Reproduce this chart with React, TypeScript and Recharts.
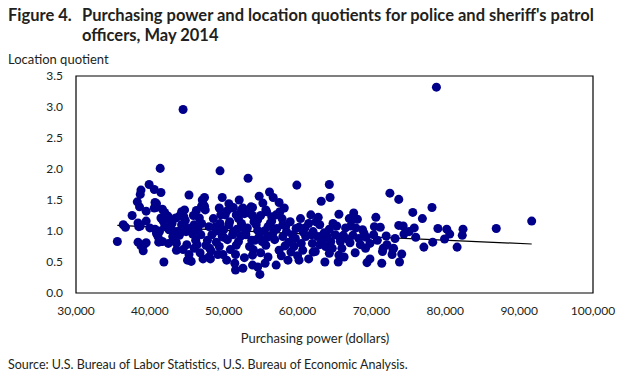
import React from 'react';
import { ScatterChart, Scatter, XAxis, YAxis, ZAxis, ReferenceArea, ReferenceLine } from 'recharts';

// purchasing power in thousands of dollars, paired with location quotients
const purchasingPower = [
  44.5, 78.8, 41.4, 49.5, 53.3, 59.9, 64.3, 72.5, 73.7, 78.2, 75.6, 76.9, 91.7, 86.9,
  39.9, 40.6, 38.8, 41.5, 38.7, 38.3, 38.6, 40.7, 40.6, 41.7, 45.3, 37.6, 39.5, 41.5, 41.8, 42.5,
  43.5, 44.3, 44.7, 44.6, 42.9, 36.4, 36.7, 38.7, 40.7, 41.3, 42.6, 43.1, 43.8, 44.3, 44.9, 46.0,
  41.1, 43.1, 43.5, 41.2, 41.7, 35.6, 38.4, 39.5, 39.1, 43.6, 41.9, 45.3, 45.1, 45.6,
  38.4, 38.5, 40.9, 40.8, 41.9, 42.3, 40.9, 38.8, 39.2, 43.6, 43.2, 44.0, 44.6, 46.2, 46.4, 46.0,
  47.1, 47.4, 48.0, 48.1, 45.5, 45.8, 44.0, 42.0,
  47.4, 49.8, 52.1, 54.8, 56.2, 56.7, 57.5, 55.3, 47.2, 47.5, 49.4, 50.7, 51.0, 52.6, 53.7, 55.7,
  57.1, 58.2, 49.6, 50.2, 51.7, 53.9, 54.6, 46.7, 60.4, 61.8, 56.5, 58.4, 59.8, 48.0, 48.9, 50.7,
  52.5, 54.4, 56.0, 46.9, 48.4, 49.8, 51.2, 53.0, 54.8, 56.6, 58.0, 59.3, 61.1, 61.9, 47.6, 49.4,
  51.7, 53.5, 55.7, 57.5, 59.1, 60.7, 62.1, 47.2, 48.2, 50.4, 51.6, 53.9, 55.6, 57.1, 58.7, 60.2,
  61.5, 51.6, 52.6, 54.6, 54.9, 53.9,
  53.9, 51.3, 47.0, 52.4, 53.5, 55.8, 57.6, 56.5, 67.4, 49.5, 50.8, 52.4, 54.1, 58.0, 60.2, 51.3,
  53.0, 54.6, 57.2, 58.5, 62.1, 63.4, 65.7, 67.5, 69.3,
  47.8, 49.0, 50.5, 52.0, 53.8, 55.2, 56.9, 58.8, 60.5, 61.0, 46.5, 50.0, 51.8, 55.5, 59.0, 57.8,
  49.2, 52.8, 55.0, 60.0, 62.0, 46.8, 48.6, 52.0, 55.0,
  63.2, 64.4, 65.6, 67.6, 67.0, 68.1, 70.6, 67.2, 67.9, 70.4, 71.2, 73.7, 74.3, 75.1, 74.4, 79.0,
  64.3, 63.6, 62.7, 65.1, 66.2, 69.0, 70.3, 68.3, 63.4, 64.5, 65.8, 67.1, 69.2, 72.1, 73.0, 71.5,
  72.8, 74.1, 77.1, 78.3, 62.4, 64.3, 65.6, 63.7, 65.5, 69.4, 69.8, 71.4, 73.8,
  80.2, 82.4, 80.6, 82.3, 79.9, 81.6, 71.6, 72.9,
  63.0, 64.8, 66.5, 62.5, 66.0, 67.8, 68.5, 63.8, 70.8, 72.0, 73.2, 76.0, 75.8,
  42.0, 43.0, 44.8, 45.9, 46.3, 45.0, 44.5, 42.5, 40.0, 39.5,
  47.0, 49.0, 50.0, 50.9, 52.3, 53.2, 54.0, 55.9, 56.3, 57.9, 59.5, 60.8, 61.5, 48.3, 49.9, 51.5,
  56.0, 58.3, 54.2, 52.8, 50.4, 56.8, 59.7,
  63.0, 64.0, 65.3, 66.8, 68.8, 69.8, 66.3, 62.8, 64.7,
];

const locationQuotient = [
  2.96, 3.32, 2.01, 1.97, 1.85, 1.74, 1.75, 1.61, 1.51, 1.38, 1.30, 1.20, 1.16, 1.04,
  1.75, 1.67, 1.66, 1.62, 1.59, 1.47, 1.39, 1.46, 1.37, 1.35, 1.58, 1.25, 1.16, 1.21, 1.16, 1.23,
  1.21, 1.31, 1.34, 1.23, 1.15, 1.10, 1.06, 1.08, 1.03, 0.99, 1.02, 1.00, 0.99, 1.10, 0.99, 1.10,
  0.91, 0.91, 0.83, 0.82, 0.83, 0.83, 0.82, 0.81, 0.68, 0.69, 0.50, 0.62, 0.53, 0.51,
  1.13, 1.07, 1.44, 1.38, 1.20, 1.25, 0.96, 0.76, 0.78, 0.80, 0.88, 1.24, 1.08, 0.85, 0.78, 0.72,
  1.50, 1.40, 0.58, 0.72, 1.05, 0.95, 0.93, 1.07,
  1.54, 1.54, 1.50, 1.56, 1.63, 1.54, 1.46, 1.45, 1.44, 1.34, 1.37, 1.44, 1.37, 1.37, 1.39, 1.34,
  1.26, 1.37, 1.26, 1.26, 1.26, 1.25, 1.18, 1.21, 1.20, 1.26, 1.16, 1.08, 1.04, 1.07, 1.07, 1.10,
  1.07, 1.10, 1.07, 0.94, 0.94, 0.91, 0.94, 0.94, 0.91, 0.94, 0.91, 0.94, 0.91, 0.94, 0.77, 0.75,
  0.77, 0.75, 0.77, 0.69, 0.66, 0.69, 0.66, 0.55, 0.55, 0.53, 0.62, 0.61, 0.48, 0.45, 0.53, 0.53,
  0.55, 0.37, 0.40, 0.42, 0.30, 0.45,
  1.38, 1.38, 1.40, 1.34, 1.29, 1.31, 1.31, 1.23, 1.18, 1.12, 1.15, 1.12, 1.15, 1.10, 1.06, 0.99,
  0.99, 1.01, 1.04, 0.99, 0.99, 0.93, 0.90, 0.93, 0.90,
  0.85, 0.82, 0.86, 0.83, 0.85, 0.83, 0.86, 0.82, 0.80, 1.05, 1.02, 1.02, 1.03, 1.00, 1.15, 0.60,
  0.62, 0.57, 0.65, 0.60, 0.80, 0.65, 1.20, 1.20, 1.25,
  1.48, 1.54, 1.27, 1.29, 1.20, 1.19, 1.22, 1.08, 1.05, 1.07, 1.06, 1.09, 1.08, 0.99, 0.95, 1.04,
  1.03, 0.97, 0.91, 0.94, 0.93, 0.96, 0.94, 0.88, 0.85, 0.83, 0.83, 0.81, 0.72, 0.78, 0.72, 0.67,
  0.62, 0.63, 0.74, 0.82, 0.67, 0.64, 0.61, 0.50, 0.50, 0.49, 0.55, 0.48, 0.50,
  1.03, 1.03, 0.95, 0.93, 0.87, 0.74, 0.72, 0.71,
  1.10, 1.12, 1.05, 1.15, 0.72, 0.65, 0.78, 0.75, 0.85, 0.92, 0.88, 0.90, 1.05,
  1.30, 1.12, 1.17, 1.25, 1.33, 0.78, 0.70, 0.80, 1.05, 1.32,
  1.12, 1.00, 0.90, 0.70, 0.92, 1.05, 0.70, 0.90, 1.12, 1.20, 0.75, 0.98, 1.12, 0.68, 0.62, 0.48,
  0.58, 0.76, 0.85, 1.28, 1.32, 1.00, 0.88,
  0.78, 0.92, 1.08, 0.87, 1.02, 0.80, 0.58, 1.22, 0.72,
];

const trendPower = [35.6, 91.7];
const trendQuotient = [1.09, 0.79];

const xTicks = [30000, 40000, 50000, 60000, 70000, 80000, 90000, 100000];
const yTicks = [0, 0.5, 1, 1.5, 2, 2.5, 3, 3.5];

const points = purchasingPower.map((p, i) => ({ x: p * 1000, y: locationQuotient[i] }));
const trend = trendPower.map((p, i) => ({ x: p * 1000, y: trendQuotient[i] }));

const font = 'Lato, "Open Sans", sans-serif';
const ink = '#231f20';

export default function App() {
  return (
    <div style={{ position: 'absolute', left: 0, top: 0, width: 623, height: 373, background: '#fff', fontFamily: font, color: ink }}>
      <div style={{ position: 'absolute', left: 8, top: 5, fontSize: 16.5, fontWeight: 700, lineHeight: '20px' }}>
        Figure 4.
      </div>
      <div style={{ position: 'absolute', left: 82, top: 5, width: 530, fontSize: 16.5, fontWeight: 700, lineHeight: '20px' }}>
        Purchasing power and location quotients for police and sheriff's patrol<br />officers, May 2014
      </div>
      <div style={{ position: 'absolute', left: 8, top: 51, fontSize: 13 }}>Location quotient</div>
      <div style={{ position: 'absolute', left: 0, width: 630, top: 330, fontSize: 13, textAlign: 'center' }}>
        Purchasing power (dollars)
      </div>
      <div style={{ position: 'absolute', left: 8, top: 357, fontSize: 12.5 }}>
        Source: U.S. Bureau of Labor Statistics, U.S. Bureau of Economic Analysis.
      </div>
      <div style={{ position: 'absolute', left: 0, top: 0 }}>
        <ScatterChart width={623} height={373} margin={{ top: 76, right: 30, bottom: 50, left: 0 }}>
          <XAxis
            type="number"
            dataKey="x"
            domain={[30000, 100000]}
            ticks={xTicks}
            tickFormatter={(v) => v.toLocaleString('en-US')}
            axisLine={false}
            tickLine={false}
            tickSize={0}
            tickMargin={13}
            height={30}
            tick={{ fontSize: 12, fill: ink, fontFamily: font }}
          />
          <YAxis
            type="number"
            dataKey="y"
            domain={[0, 3.5]}
            ticks={yTicks}
            tickFormatter={(v) => v.toFixed(1)}
            axisLine={false}
            tickLine={false}
            tickSize={0}
            tickMargin={13}
            width={76}
            tick={{ fontSize: 12, fill: ink, fontFamily: font }}
          />
          <ZAxis range={[45, 45]} />
          <ReferenceArea x1={30000} x2={100000} y1={0} y2={3.5} fill="none" stroke="#000" strokeWidth={1.2} />
          <Scatter data={points} fill="#00008b" isAnimationActive={false} />
          <ReferenceLine segment={trend} stroke="#000" strokeWidth={1.2} />
        </ScatterChart>
      </div>
    </div>
  );
}
